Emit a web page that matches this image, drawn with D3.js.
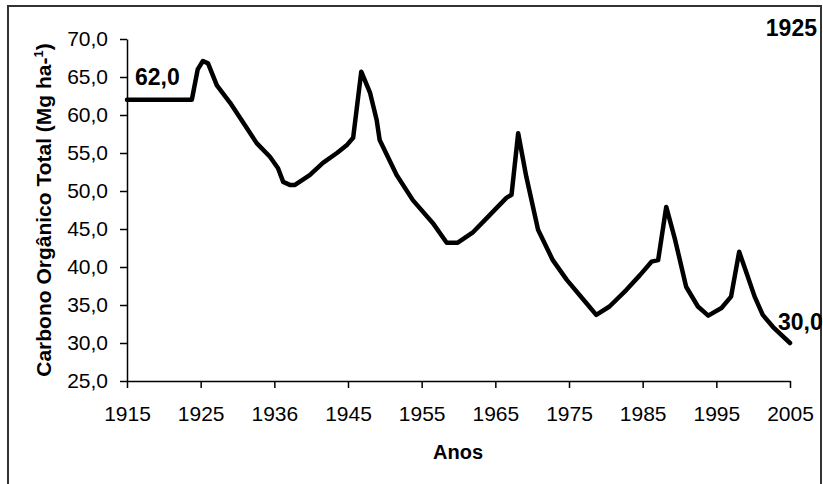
<!DOCTYPE html>
<html>
<head>
<meta charset="utf-8">
<script src="https://cdn.jsdelivr.net/npm/d3@7"></script>
<style>
  body { margin: 0; background: #fff; }
  svg { display: block; font-family: "Liberation Sans", Arial, sans-serif; }
</style>
</head>
<body>
<svg width="823" height="484"></svg>
<script>
// data (year, carbon in Mg/ha)
var years = [1915, 1923.8, 1924.6, 1925.3, 1926, 1927.2, 1929, 1930.7, 1932.6, 1934.4, 1935.5, 1936.2, 1937.1, 1937.8,
  1939.8, 1941.6, 1943.5, 1944.9, 1945.7, 1946.8, 1948, 1948.9, 1949.3, 1951.6, 1953.8, 1956.5, 1958.4, 1959.9,
  1962, 1963.8, 1966.5, 1967.2, 1968.1, 1969.2, 1970.8, 1972.8, 1974.7, 1977.4, 1978.7, 1980.5, 1982.8, 1984.6,
  1986.2, 1987.1, 1988.2, 1989.4, 1990.9, 1992.5, 1993.9, 1995.7, 1997, 1998.1, 1999.1, 2000.2, 2001.3, 2002.7, 2005];
var carbon = [62.0, 62.0, 66.0, 67.1, 66.8, 63.9, 61.6, 59.1, 56.3, 54.5, 53.0, 51.2, 50.8, 50.8,
  52.1, 53.7, 55.0, 56.1, 57.0, 65.7, 62.9, 59.3, 56.7, 52.1, 48.8, 45.8, 43.2, 43.2,
  44.6, 46.4, 49.1, 49.5, 57.6, 51.9, 44.9, 40.9, 38.3, 35.2, 33.7, 34.8, 37.0, 38.9,
  40.7, 40.9, 47.9, 43.6, 37.4, 34.8, 33.6, 34.6, 36.1, 42.0, 39.2, 36.1, 33.7, 32.1, 30.0];

var yTicks = [25, 30, 35, 40, 45, 50, 55, 60, 65, 70];
var xTickYears = [1915, 1925, 1935, 1945, 1955, 1965, 1975, 1985, 1995, 2005];
var xTickLabels = ['1915', '1925', '1936', '1945', '1955', '1965', '1975', '1985', '1995', '2005'];

var svg = d3.select("svg");

// outer frame of the chart
svg.append("rect")
  .attr("x", 8).attr("y", 6).attr("width", 813).attr("height", 490)
  .attr("fill", "none").attr("stroke", "#333").attr("stroke-width", 2);

var x = d3.scaleLinear().domain([1915, 2005]).range([127, 790]);
var y = d3.scaleLinear().domain([25, 70]).range([381, 39]);

var fmt = function(d) { return d.toFixed(1).replace('.', ','); };

var gy = svg.append("g")
  .attr("transform", "translate(127,0)")
  .call(d3.axisLeft(y).tickValues(yTicks).tickFormat(fmt).tickSize(7).tickSizeOuter(0).tickPadding(12));

var gx = svg.append("g")
  .attr("transform", "translate(0,381)")
  .call(d3.axisBottom(x).tickValues(xTickYears).tickFormat(function(d, i) { return xTickLabels[i]; })
    .tickSize(7).tickSizeOuter(0).tickPadding(18));

[gx, gy].forEach(function(g) {
  g.selectAll("path, line").attr("stroke", "#000").attr("stroke-width", 1.5);
  g.selectAll("text").attr("font-size", 21).attr("fill", "#000")
    .attr("font-family", '"Liberation Sans", Arial, sans-serif');
});

// the curve
var line = d3.line()
  .x(function(d, i) { return x(years[i]); })
  .y(function(d) { return y(d); });

svg.append("path")
  .datum(carbon)
  .attr("d", line)
  .attr("fill", "none")
  .attr("stroke", "#000")
  .attr("stroke-width", 4.5)
  .attr("stroke-linejoin", "round")
  .attr("stroke-linecap", "round");

// axis titles
svg.append("text")
  .attr("x", 458).attr("y", 459)
  .attr("text-anchor", "middle")
  .attr("font-size", 20).attr("font-weight", "bold")
  .text("Anos");

var yt = svg.append("text")
  .attr("transform", "translate(51,210) rotate(-90)")
  .attr("text-anchor", "middle")
  .attr("font-size", 21).attr("font-weight", "bold");
yt.append("tspan").text("Carbono Orgânico Total (Mg ha-");
yt.append("tspan").attr("font-size", 13).attr("dy", -8).text("1");
yt.append("tspan").attr("dy", 8).text(")");

// value labels
svg.append("text")
  .attr("x", 135).attr("y", 85)
  .attr("font-size", 23).attr("font-weight", "bold")
  .text(fmt(carbon[0]));

svg.append("text")
  .attr("x", 778).attr("y", 330)
  .attr("font-size", 23).attr("font-weight", "bold")
  .text(fmt(carbon[carbon.length - 1]));

svg.append("text")
  .attr("x", 817).attr("y", 36)
  .attr("text-anchor", "end")
  .attr("font-size", 23).attr("font-weight", "bold")
  .text("1925");
</script>
</body>
</html>
